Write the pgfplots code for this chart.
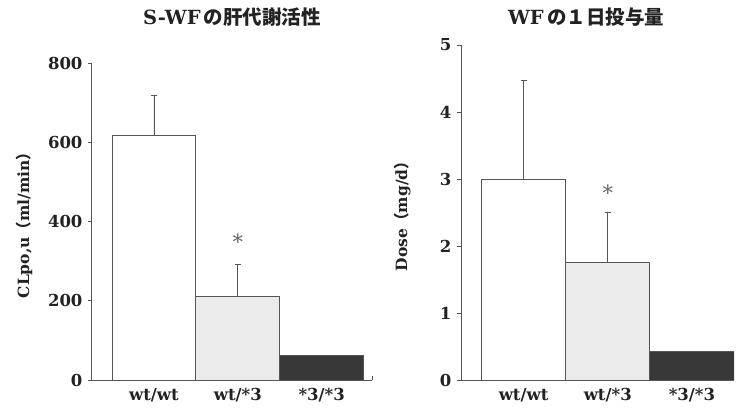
\documentclass[border=0pt]{standalone}
\usepackage{pgfplots}
\pgfplotsset{compat=1.18}
\usepackage{fontspec}
\setmainfont{DejaVu Serif}
\newfontfamily\cjk{Noto Sans CJK JP}
\definecolor{axline}{HTML}{555555}
\definecolor{txt}{HTML}{222222}
\definecolor{midfill}{HTML}{EBEBEB}
\definecolor{darkfill}{HTML}{383838}
\pgfplotsset{
  panel/.style={
    anchor=south west, scale only axis,
    axis x line*=bottom, axis y line*=left,
    axis line style={axline, line width=1pt, -},
    ymin=0,
    xtick={0,1,2}, xticklabels={wt/wt,wt/*3,*3/*3},
    x tick style={draw=none},
    y tick style={axline, line width=0.8pt},
    tick align=outside, major tick length=4pt,
    /pgf/number format/assume math mode=true,
    tick label style={font=\fontsize{16.5}{18}\selectfont\bfseries, text=txt},
    xticklabel style={yshift=-1pt},
    yticklabel style={xshift=-2pt},
    ylabel style={font=\fontsize{15.5}{17}\selectfont\bfseries, text=txt, anchor=center},
    title style={font=\fontsize{19.5}{21}\selectfont\bfseries, text=txt, anchor=center, yshift=0pt},
  },
  bar/.style={ybar, bar width=1, bar shift=0pt, draw=axline, line width=0.9pt,
    /pgfplots/error bars/y dir=plus, /pgfplots/error bars/y explicit,
    /pgfplots/error bars/error bar style={axline, line width=0.8pt},
    /pgfplots/error bars/error mark options={rotate=90, mark size=3pt, axline, line width=0.8pt}},
}
\begin{document}
\begin{tikzpicture}
\path[use as bounding box] (0,0) rectangle (736pt,407pt);
\begin{axis}[panel,
  at={(92pt,27pt)}, width=280pt, height=317pt,
  xmin=-0.738, xmax=2.6, ymax=800,
  ytick={0,200,400,600,800},
  ylabel={CLpo,u{\cjk\bfseries （}ml/min{\cjk\bfseries ）}},
  ylabel style={at={(axis description cs:-0.243,0.5)}},
  title={S-WF\,{\cjk\bfseries の肝代謝活性}},
  title style={at={(axis description cs:0.5,1.126)}},
  extra x ticks={2.6}, extra x tick labels={},
  extra x tick style={x tick style={draw=axline, line width=0.8pt}, tick align=inside},
]
\addplot[bar, fill=white] coordinates {(0,618) +- (0,99)};
\addplot[bar, fill=midfill] coordinates {(1,212) +- (0,81)};
\addplot[bar, fill=darkfill] coordinates {(2,63)};
\node[text=gray!80!black, font=\fontsize{21}{23}\selectfont] at (axis cs:1,348) {*};
\end{axis}
\begin{axis}[panel,
  at={(461pt,27pt)}, width=273pt, height=335pt,
  xmin=-0.744, xmax=2.5, ymax=5,
  ytick={0,1,2,3,4,5},
  ylabel={Dose{\cjk\bfseries （}mg/d{\cjk\bfseries ）}},
  ylabel style={at={(axis description cs:-0.216,0.5)}},
  title={WF\,{\cjk\bfseries の１日投与量}},
  title style={at={(axis description cs:0.458,1.065)}},
]
\addplot[bar, fill=white] coordinates {(0,3.0) +- (0,1.47)};
\addplot[bar, fill=midfill] coordinates {(1,1.75) +- (0,0.75)};
\addplot[bar, fill=darkfill] coordinates {(2,0.42)};
\node[text=gray!80!black, font=\fontsize{21}{23}\selectfont] at (axis cs:1,2.8) {*};
\end{axis}
\end{tikzpicture}
\end{document}
